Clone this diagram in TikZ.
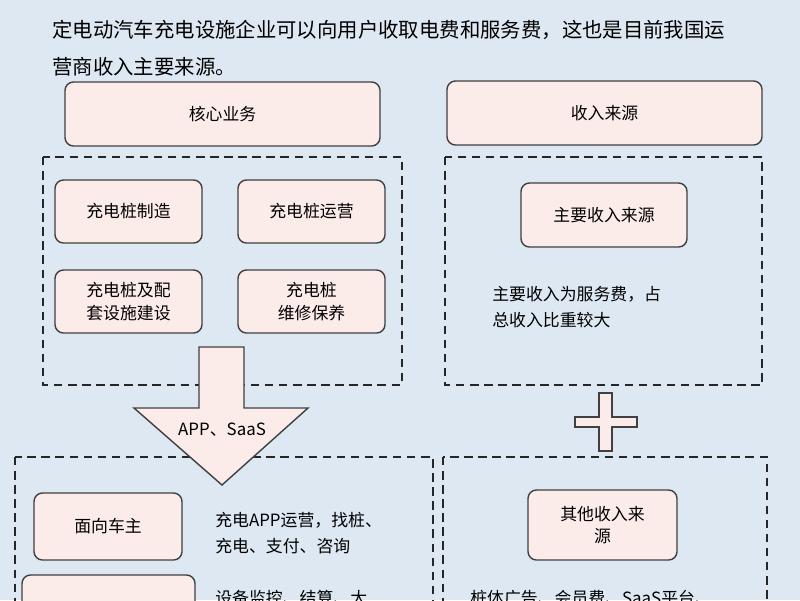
\documentclass[tikz,border=0pt]{standalone}
\usepackage{fontspec}
\newfontfamily\cjk{Noto Sans CJK SC}
\usetikzlibrary{positioning}
\definecolor{bgblue}{RGB}{221,232,243}
\definecolor{boxpink}{RGB}{252,236,233}

\begin{document}
\begin{tikzpicture}[x=0.025cm,y=-0.025cm,font=\cjk,
	box/.style={draw=black!75,line width=1pt,fill=boxpink,rounded corners=6pt,align=center,font=\cjk\fontsize{12}{16}\selectfont,inner sep=0pt},
	grp/.style={draw=black!85,line width=1.3pt,dash pattern=on 6pt off 4pt},
	txt/.style={align=left,anchor=west,font=\cjk\fontsize{12}{18}\selectfont,inner sep=0pt}]
				\useasboundingbox (0,0) rectangle (800,600);
				\clip (0,0) rectangle (800,600);
				\fill[bgblue] (0,0) rectangle (800,600);
				\node[txt,font=\cjk\fontsize{14.5}{20}\selectfont] (l1) at (52,30) {定电动汽车充电设施企业可以向用户收取电费和服务费，这也是目前我国运};
				\node[txt,font=\cjk\fontsize{14.5}{20}\selectfont] (l2) at (52,67) {营商收入主要来源。};
				% top row
				\draw[box] (65,82) rectangle (380,146) node[midway] (hx) {核心业务};
				\draw[box] (447,81) rectangle (762,145) node[midway] (sr) {收入来源};
				% core group
				\draw[grp] (43,157) rectangle (402,385);
				\draw[box] (55,180) rectangle (202,243) node[midway] (zz) {充电桩制造};
				\draw[box] (238,180) rectangle (385,243) node[midway] (yy) {充电桩运营};
				\draw[box] (55,270) rectangle (202,333) node[midway] (js) {充电桩及配\\套设施建设};
				\draw[box] (238,270) rectangle (385,333) node[midway] (wx) {充电桩\\维修保养};
				% income group
				\draw[grp] (445,157) rectangle (762,385);
				\draw[box] (521,183) rectangle (687,247) node[midway] (zy) {主要收入来源};
				\node[txt] (zyt) at (492,307) {主要收入为服务费，占\\总收入比重较大};
				% lower groups
				\draw[grp] (15,457) rectangle (433,640);
				\draw[grp] (443,457) rectangle (767,640);
				\draw[box] (34,493) rectangle (182,560) node[midway] (cz) {面向车主};
				\node[txt] (czt) at (215,533) {充电APP运营，找桩、\\充电、支付、咨询};
				\draw[box] (22,575) rectangle (195,650);
				\node[txt] (yyt) at (215,598) {设备监控、结算、大};
				\draw[box] (528,490) rectangle (677,560) node[midway] (qt) {其他收入来\\源};
				\node[txt] (qtt) at (470,598) {桩体广告、会员费、SaaS平台、};
				% arrow and plus
				\draw[draw=black!75,line width=1pt,fill=boxpink,line join=miter]
					(199,347) -- (244,347) -- (244,408) -- (308,408) -- (222,485)
					-- (134,408) -- (199,408) -- cycle;
				\node[font=\cjk\fontsize{12}{14}\selectfont] (app) at (222,430) {APP、SaaS};
				\draw[draw=black!75,line width=1pt,fill=boxpink]
					(599,393) -- (612,393) -- (612,417) -- (637,417) -- (637,427) -- (612,427)
					-- (612,451) -- (599,451) -- (599,427) -- (575,427) -- (575,417) -- (599,417) -- cycle;
			\end{tikzpicture}
\end{document}
